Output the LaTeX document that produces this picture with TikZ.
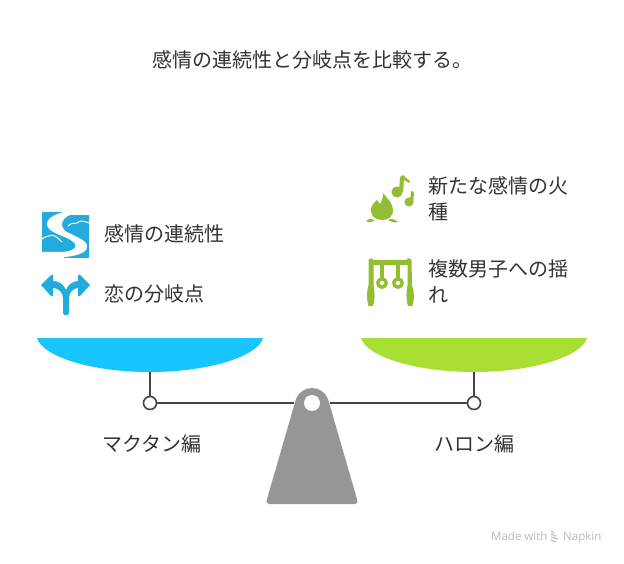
\documentclass[tikz,border=0pt]{standalone}
\usepackage{fontspec}
\setmainfont{Noto Sans CJK JP}
\newfontfamily\latinfont{Open Sans}
\definecolor{skyblue}{HTML}{19C5FF}
\definecolor{leafgreen}{HTML}{A8DF32}
\definecolor{iconblue}{HTML}{22ABDC}
\definecolor{icongreen}{HTML}{94BD33}
\definecolor{beamgray}{HTML}{444444}
\definecolor{basegray}{HTML}{969696}
\definecolor{inkgray}{HTML}{333333}
\tikzset{
  label/.style={anchor=west, inner sep=0pt, font=\fontsize{20}{25.5}\selectfont, text=inkgray, align=left},
  mark text/.style={anchor=base west, inner sep=0pt, text=black!27, font=\latinfont\fontsize{11.5}{13}\selectfont},
  pivot/.style={circle, draw=beamgray, line width=1.6pt, fill=white, minimum size=13pt, inner sep=0pt},
  beam/.style={draw=beamgray, line width=1.6pt},
  pan/.style={line join=round},
}
\begin{document}
\begin{tikzpicture}[x=1pt, y=-1pt]
  \useasboundingbox (0,0) rectangle (624,564);
  \fill[white] (0,0) rectangle (624,564);

  \node[label] (title) at (152,60) {感情の連続性と分岐点を比較する。};

  % beam
  \node[pivot] (pivotl) at (150,403) {};
  \node[pivot] (pivotr) at (474,403) {};
  \coordinate (panl) at (150,370);
  \coordinate (panr) at (474,370);
  \draw[beam] (panl) -- (pivotl);
  \draw[beam] (panr) -- (pivotr);
  \draw[beam] (pivotl) -- (294,403);
  \draw[beam] (pivotr) -- (330,403);

  % pans
  \fill[skyblue, pan] (37,338) -- (263,338) .. controls (258,356) and (210,372) .. (150,372)
    .. controls (90,372) and (42,356) .. (37,338) -- cycle;
  \fill[leafgreen, pan] (361,338) -- (587,338) .. controls (582,356) and (534,372) .. (474,372)
    .. controls (414,372) and (366,356) .. (361,338) -- cycle;

  % stand
  \fill[basegray] (296,399) .. controls (299,392) and (305,388) .. (312,388)
    .. controls (319,388) and (325,392) .. (328,399)
    -- (357,499) .. controls (358,502) and (357,504) .. (354,504)
    -- (269,504) .. controls (267,504) and (266,502) .. (267,499) -- cycle;
  \fill[white] (312,403) circle (8pt);

  % left icons
  \fill[iconblue, rounded corners=0.8pt] (42,212) rectangle (89,258);
  \fill[white] (69,211) .. controls (56,213) and (47,218) .. (47,224)
    .. controls (47,231) and (58,234) .. (67,238)
    .. controls (78,243) and (80,250) .. (63,252) -- (41,252) -- (41,259) -- (64,259) -- (64,257)
    .. controls (80,256) and (89,251) .. (87,245)
    .. controls (85,239) and (72,235) .. (67,232)
    .. controls (60,228) and (60,219) .. (70,215) -- (90,215) -- (90,211) -- cycle;
  \draw[white, line width=1pt] (68,226) .. controls (72,222) and (75,224) .. (77,223)
    .. controls (81,219) and (85,222) .. (89,223);
  \draw[white, line width=1pt] (42,239) .. controls (45,236) and (47,237) .. (49,236)
    .. controls (53,233) and (58,238) .. (62,242);

  \fill[iconblue, line join=round] (41,285) -- (51,275) -- (53,275) -- (53,281) .. controls (58,281) and (64,284) .. (66,290)
    .. controls (68,284) and (74,281) .. (78,281) -- (78,275) -- (80,275) -- (90,285) -- (80,296) -- (78,296) -- (78,288)
    .. controls (74,288) and (69,292) .. (69,298) -- (69,313) .. controls (69,316) and (63,316) .. (63,313)
    -- (63,298) .. controls (63,292) and (58,288) .. (53,288) -- (53,296) -- (51,296) -- cycle;

  \node[label] (leftone) at (104,234) {感情の連続性};
  \node[label] (lefttwo) at (104,294) {恋の分岐点};

  % right icons
  \fill[icongreen] (383,193) .. controls (388,199) and (393,204) .. (393,210)
    .. controls (393,217) and (388,220) .. (382,220) .. controls (375,220) and (371,216) .. (371,210)
    .. controls (371,205) and (374,203) .. (377,200) .. controls (378,202) and (379,203) .. (380,204)
    .. controls (382,201) and (383,197) .. (383,193) -- cycle;
  \fill[icongreen] (366,221) .. controls (369,218) and (372,219) .. (375,220) .. controls (372,222) and (369,223) .. (366,221) -- cycle;
  \fill[icongreen] (388,220) .. controls (391,218) and (395,219) .. (398,222) .. controls (394,223) and (391,222) .. (388,220) -- cycle;
  \fill[icongreen] (397,192) circle (5.6pt);
  \fill[icongreen] (399,192) -- (400,177) -- (403,175) .. controls (405,178) and (408,179) .. (410,181) -- (409,183) -- (404,180) -- (403,192) -- cycle;
  \fill[icongreen] (409,202) circle (4.6pt);
  \fill[icongreen] (410,201) -- (411,191) .. controls (413,191) and (414,192) .. (414,194) -- (413,202) -- cycle;

  \fill[icongreen] (368.5,260) -- (371,258) -- (373.5,260) -- (406,260) -- (409,258) -- (411.5,260) -- (412,285) .. controls (414.5,292) and (414.5,300) .. (412.5,306) -- (408,306) .. controls (406,300) and (406,292) .. (407.5,285) -- (407.5,265) -- (373.5,265) -- (373.5,285) .. controls (375,292) and (375,300) .. (373,306) -- (368.5,306) .. controls (366.5,300) and (366.5,292) .. (368.5,285) -- cycle;
  \fill[icongreen] (380,264) rectangle (384,278);
  \fill[icongreen] (396,264) rectangle (400,278);
  \draw[icongreen, line width=3.4pt] (382,283) circle (4.2pt);
  \draw[icongreen, line width=3.4pt] (398,283) circle (4.2pt);

  \node[label, anchor=north west] (rightone) at (428,176.5) {新たな感情の火\\種};
  \node[label, anchor=north west] (righttwo) at (428,259.5) {複数男子への揺\\れ};

  % side captions
  \node[label] (leftcap) at (102,444) {マクタン編};
  \node[label] (rightcap) at (434,444) {ハロン編};

  % watermark
  \node[mark text] (made) at (491,540) {Made with};
  \node[mark text] (napkin) at (563,540) {Napkin};
  \foreach \yy/\ww in {532/3,535/5,538/7,541/5} {
    \draw[black!27, line width=1.1pt] (551,\yy-1) -- (551+\ww,\yy+1);
  }
\end{tikzpicture}
\end{document}
